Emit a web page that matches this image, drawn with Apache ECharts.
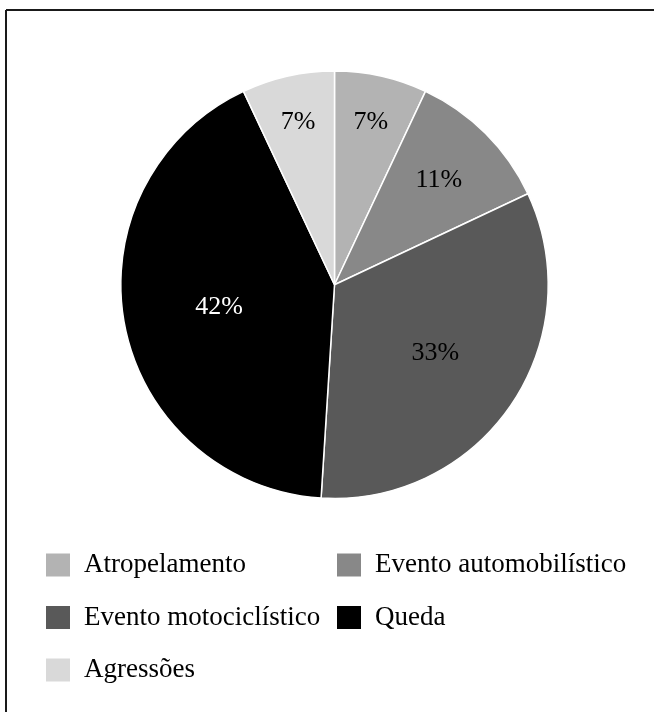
<!DOCTYPE html>
<html>
<head>
<meta charset="utf-8">
<script src="https://cdn.jsdelivr.net/npm/echarts@6/dist/echarts.min.js"></script>
<style>
  html, body { margin: 0; padding: 0; background: #fff; }
  #chart { width: 654px; height: 712px; }
</style>
</head>
<body>
<div id="chart"></div>
<script>
// Causes of injury, share of cases (%)
const categories = ['Atropelamento', 'Evento automobilístico', 'Evento motociclístico', 'Queda', 'Agressões'];
const shares = [7, 11, 33, 42, 7];
const sliceColors = ['#b3b3b3', '#888888', '#595959', '#000000', '#d9d9d9'];
const labelColors = ['#000', '#000', '#000', '#fff', '#000'];
// radial placement of each percentage label, as a fraction of the pie radius
const labelRadiusFrac = [0.78, 0.69, 0.57, 0.55, 0.78];

const CX = 334.5, CY = 284.7, R = 213.7;
const total = shares.reduce((a, b) => a + b, 0);

function labelPos(i) {
  let before = 0;
  for (let k = 0; k < i; k++) before += shares[k];
  const mid = (before + shares[i] / 2) / total * Math.PI * 2;
  const r = R * labelRadiusFrac[i];
  return { x: CX + r * Math.sin(mid), y: CY - r * Math.cos(mid) };
}

const chart = echarts.init(document.getElementById('chart'), null, { renderer: 'canvas' });

const legendText = {
  fontFamily: 'Liberation Serif',
  fontSize: 27,
  color: '#000',
  lineHeight: 28,
  padding: [0, 0, 0, 8]
};

const frameStyle = { stroke: '#1a1a1a', lineWidth: 2 };

chart.setOption({
  animation: false,
  backgroundColor: '#fff',
  graphic: [
    // frame edges (top and left)
    { type: 'line', shape: { x1: 6, y1: 10, x2: 654, y2: 10 }, style: frameStyle, silent: true },
    { type: 'line', shape: { x1: 6, y1: 10, x2: 6, y2: 712 }, style: frameStyle, silent: true }
  ],
  legend: [
    {
      orient: 'vertical',
      left: 44, top: 551,
      padding: 0,
      itemWidth: 26, itemHeight: 25, itemGap: 24.5,
      icon: 'rect',
      selectedMode: false,
      data: [categories[0], categories[2], categories[4]],
      textStyle: legendText
    },
    {
      orient: 'vertical',
      left: 335, top: 551,
      padding: 0,
      itemWidth: 26, itemHeight: 25, itemGap: 24.5,
      icon: 'rect',
      selectedMode: false,
      data: [categories[1], categories[3]],
      textStyle: legendText
    }
  ],
  series: [{
    type: 'pie',
    center: [CX, CY],
    radius: [0, R],
    startAngle: 90,
    clockwise: true,
    avoidLabelOverlap: false,
    silent: true,
    itemStyle: { borderColor: '#fff', borderWidth: 1.5 },
    label: {
      show: true,
      position: 'inside',
      fontFamily: 'Liberation Serif',
      fontSize: 26,
      formatter: p => p.value + '%'
    },
    labelLine: { show: false },
    labelLayout: params => {
      const p = labelPos(params.dataIndex);
      return { x: p.x, y: p.y, align: 'center', verticalAlign: 'middle' };
    },
    data: categories.map((name, i) => ({
      name,
      value: shares[i],
      itemStyle: { color: sliceColors[i] },
      label: { color: labelColors[i] }
    }))
  }]
});
</script>
</body>
</html>
